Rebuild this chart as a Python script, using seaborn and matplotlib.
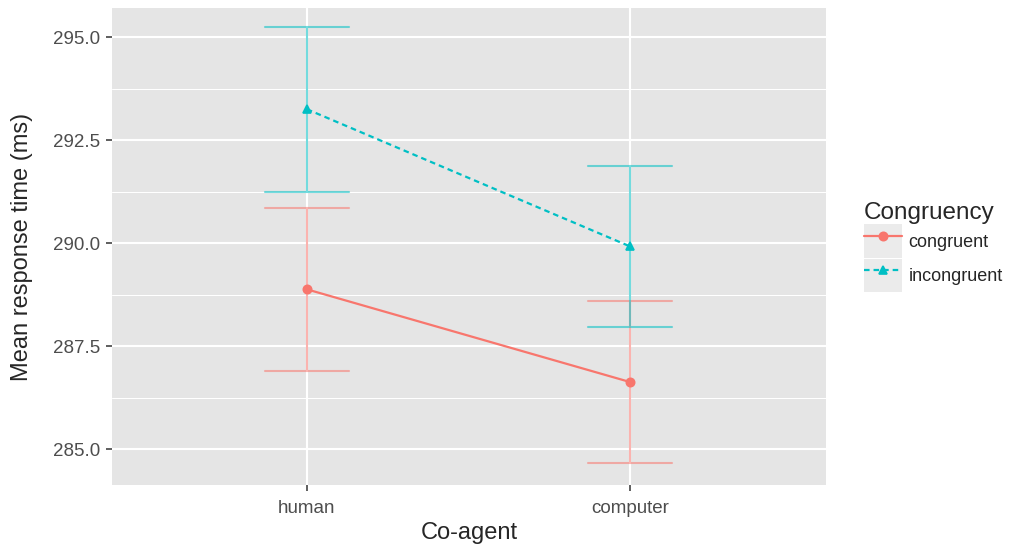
import pandas as pd
import matplotlib
matplotlib.use('Agg')
import matplotlib.pyplot as plt
import seaborn as sns
from matplotlib.patches import Rectangle
from matplotlib.legend_handler import HandlerTuple

# values
agents = ['human', 'computer']
congruent_mean = [288.88, 286.63]
congruent_err = [1.97, 1.97]
incongruent_mean = [293.25, 289.92]
incongruent_err = [2.00, 1.95]
y_ticks = [285.0, 287.5, 290.0, 292.5, 295.0]

red = '#F8766D'
teal = '#00BFC4'

# three rows per cell: lower, mean, upper -> median gives the mean, pi 100 gives the bar
rows = []
for name, means, errs in [('congruent', congruent_mean, congruent_err),
                          ('incongruent', incongruent_mean, incongruent_err)]:
    for agent, m, e in zip(agents, means, errs):
        for v in (m - e, m, m + e):
            rows.append({'Co-agent': agent, 'Congruency': name, 'rt': v})
df = pd.DataFrame(rows)

sns.set_style('darkgrid', {'axes.facecolor': '#E5E5E5', 'grid.color': 'white'})
plt.rcParams['font.family'] = ['Liberation Sans', 'DejaVu Sans']

fig = plt.figure(figsize=(10.24, 5.5), dpi=100)
ax = fig.add_axes([0.109, 0.118, 0.698, 0.867])

sns.pointplot(data=df, x='Co-agent', y='rt', hue='Congruency',
              order=agents, hue_order=['congruent', 'incongruent'],
              palette=[red, teal], estimator='median', errorbar=('pi', 100),
              markers=['o', '^'], linestyles=['-', (0, (2.5, 1.8))], capsize=0.26,
              err_kws={'alpha': 0.55, 'linewidth': 1.5},
              markersize=6, linewidth=1.6, ax=ax)

ax.set_xlim(-0.604, 1.607)
ax.set_ylim(284.13, 295.70)
ax.set_yticks(y_ticks)
ax.set_yticklabels([f'{t:.1f}' for t in y_ticks])
ax.set_yticks([286.25, 288.75, 291.25, 293.75], minor=True)
ax.grid(which='major', color='white', linewidth=1.5)
ax.grid(which='minor', axis='y', color='white', linewidth=0.75)
ax.tick_params(axis='both', which='major', length=4.5, width=1.1, color='#333333',
               labelsize=13.5, labelcolor='#4D4D4D', pad=4, left=True, bottom=True)
ax.tick_params(axis='x', which='major', pad=6)
ax.tick_params(which='minor', length=0)
for s in ax.spines.values():
    s.set_visible(False)

ax.set_xlabel('Co-agent', fontsize=17, labelpad=4)
ax.set_ylabel('Mean response time (ms)', fontsize=17, labelpad=14)

# legend keys with grey background like ggplot
handles, labels = ax.get_legend_handles_labels()
keyed = [(Rectangle((0, 0), 1, 1, facecolor='#EBEBEB', edgecolor='none'), h) for h in handles]
leg = ax.legend(keyed, labels, title='Congruency', loc='center left',
                bbox_to_anchor=(1.03, 0.5), frameon=False, fontsize=13,
                title_fontsize=17.5, handlelength=2.1, handleheight=2.45,
                labelspacing=0.05, handletextpad=0.35,
                handler_map={tuple: HandlerTuple(ndivide=1, pad=0)})
leg._legend_box.align = 'left'

fig.savefig('out.png', dpi=100)
